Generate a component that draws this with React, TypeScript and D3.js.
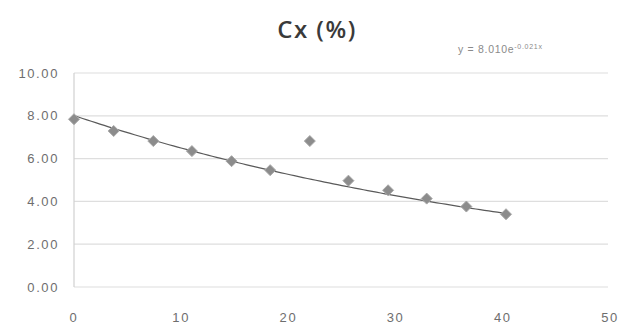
import React from "react";
import * as d3 from "d3";

const xValues = [0, 3.7, 7.4, 11.0, 14.7, 18.3, 22.0, 25.6, 29.3, 32.9, 36.6, 40.3];
const yValues = [7.84, 7.29, 6.82, 6.35, 5.88, 5.46, 6.82, 4.97, 4.52, 4.13, 3.76, 3.4];
const yTicks = [0, 2, 4, 6, 8, 10];
const xTicks = [0, 10, 20, 30, 40, 50];
const trendA = 8.01;
const trendB = 0.021;
const title = "Cx (%)";

const W = 618;
const H = 325;

export default function App() {
  const x = d3.scaleLinear().domain([0, 50]).range([74, 610]);
  const y = d3.scaleLinear().domain([0, 10]).range([287, 73]);
  const lastX = xValues[xValues.length - 1];
  const trendPts = d3.range(0, 101).map((i) => {
    const xv = (lastX * i) / 100;
    return [xv, trendA * Math.exp(-trendB * xv)] as [number, number];
  });
  const line = d3
    .line<[number, number]>()
    .x((d) => x(d[0]))
    .y((d) => y(d[1]));
  const r = 5.5;
  const diamond = `M0,${-r}L${r},0L0,${r}L${-r},0Z`;
  const labelStyle: React.CSSProperties = {
    fontFamily: "Liberation Sans, sans-serif",
    fontSize: 13,
    letterSpacing: 1.6,
    fill: "#6e6e6e",
  };
  return (
    <svg
      width={W}
      height={H}
      style={{ position: "absolute", left: 0, top: 0, background: "#fff" }}
    >
      <text
        x={317}
        y={38}
        textAnchor="middle"
        style={{
          fontFamily: "Open Sans, sans-serif",
          fontSize: 24,
          fontWeight: 600,
          letterSpacing: 1.5,
          fill: "#3a3a3a",
        }}
      >
        {title}
      </text>
      <text
        x={458}
        y={53}
        style={{ fontFamily: "Liberation Sans, sans-serif", fontSize: 10.5, fill: "#8a8a8a", letterSpacing: 0.7 }}
      >
        {"y = 8.010e"}
        <tspan dy={-4} style={{ fontSize: 7 }}>
          {"-0.021x"}
        </tspan>
      </text>
      {yTicks.map((t) => (
        <g key={t}>
          <line x1={74} x2={608} y1={y(t)} y2={y(t)} stroke="#dedede" strokeWidth={1.2} />
          <text x={59} y={y(t)} dy="0.35em" textAnchor="end" style={labelStyle}>
            {t.toFixed(2)}
          </text>
        </g>
      ))}
      <line x1={74} x2={74} y1={y(10)} y2={y(0)} stroke="#d0d0d0" strokeWidth={1.2} />
      {xTicks.map((t) => (
        <text key={t} x={x(t)} y={317} dy="0.35em" textAnchor="middle" style={labelStyle}>
          {t}
        </text>
      ))}
      <path d={line(trendPts) || ""} fill="none" stroke="#5a5a5a" strokeWidth={1.2} />
      {xValues.map((xv, i) => (
        <path
          key={i}
          d={diamond}
          transform={`translate(${x(xv)},${y(yValues[i])})`}
          fill="#8c8c8c"
          stroke="#a8a8a8"
          strokeWidth={1}
        />
      ))}
    </svg>
  );
}
